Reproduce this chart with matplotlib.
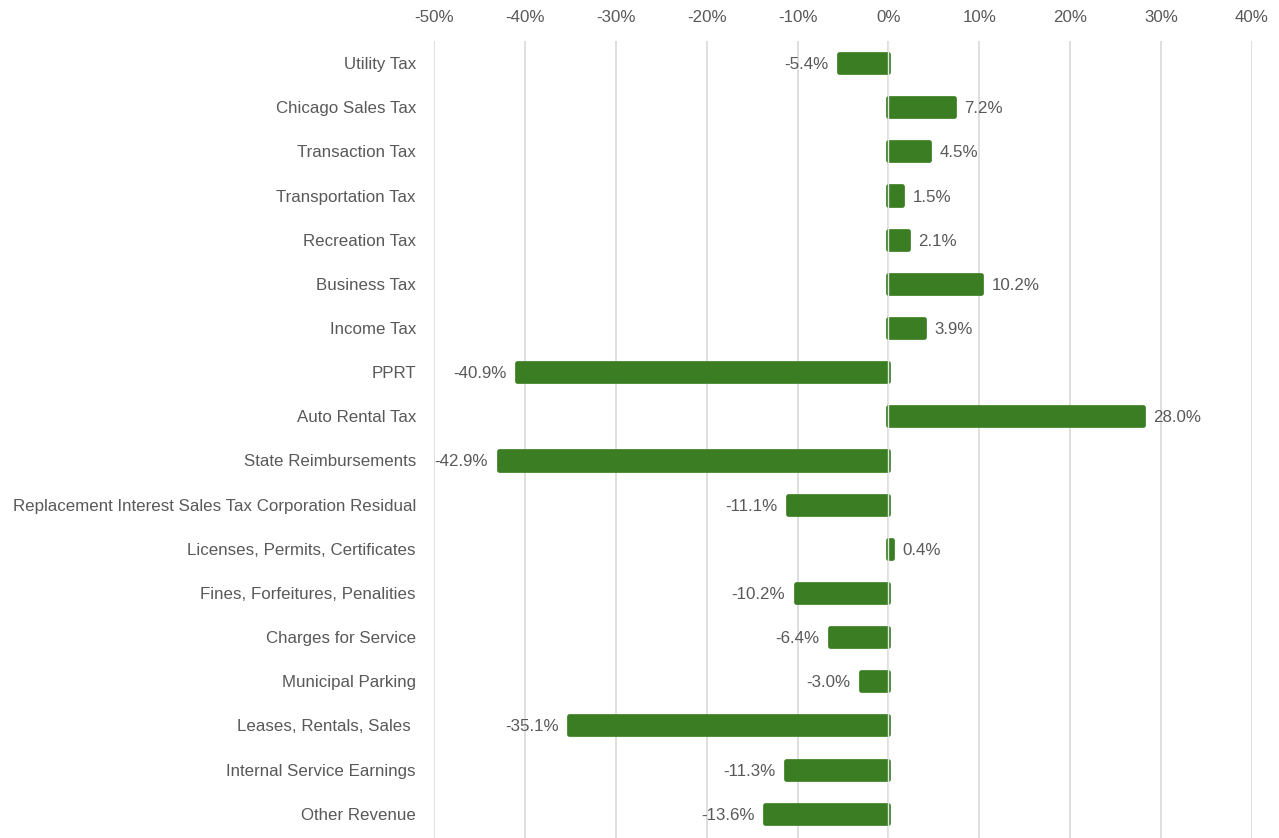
import matplotlib
matplotlib.use("Agg")
import matplotlib.pyplot as plt
from matplotlib.ticker import FuncFormatter

categories = [
    "Utility Tax", "Chicago Sales Tax", "Transaction Tax", "Transportation Tax",
    "Recreation Tax", "Business Tax", "Income Tax", "PPRT", "Auto Rental Tax",
    "State Reimbursements", "Replacement Interest Sales Tax Corporation Residual",
    "Licenses, Permits, Certificates", "Fines, Forfeitures, Penalities",
    "Charges for Service", "Municipal Parking", "Leases, Rentals, Sales ",
    "Internal Service Earnings", "Other Revenue",
]
values = [-5.4, 7.2, 4.5, 1.5, 2.1, 10.2, 3.9, -40.9, 28.0, -42.9, -11.1,
          0.4, -10.2, -6.4, -3.0, -35.1, -11.3, -13.6]
xticks = [-50, -40, -30, -20, -10, 0, 10, 20, 30, 40]

plt.rcParams['font.family'] = ['Liberation Sans', 'DejaVu Sans']
fig = plt.figure(figsize=(12.79, 8.38), dpi=100)
ax = fig.add_axes([434/1279, 0.0, (1252-434)/1279, 1-41/838])

txt = "#595959"
green = "#3A7D22"
fs = 12.2
y = list(range(len(categories)))
bars = ax.barh(y, values, height=0.41, color=green, edgecolor=green, linewidth=3.4, zorder=3)
for b in bars:
    b.set_joinstyle("round")
ax.axvline(0, color="#e6e6e6", linewidth=1.0, zorder=4)

for yi, v in zip(y, values):
    if v >= 0:
        ax.text(v + 1.15, yi, f"{v:.1f}%", va="center_baseline", ha="left", fontsize=fs, color=txt)
    else:
        ax.text(v - 1.15, yi, f"{v:.1f}%", va="center_baseline", ha="right", fontsize=fs, color=txt)

ax.set_xlim(-50, 40)
ax.set_ylim(len(categories) - 0.5 + 0.05, -0.5)
ax.set_xticks(xticks)
ax.xaxis.set_major_formatter(FuncFormatter(lambda v, p: f"{int(v)}%"))
ax.xaxis.tick_top()
ax.tick_params(axis="x", length=0, pad=11.5, labelsize=fs, labelcolor=txt)
ax.set_yticks(y)
ax.set_yticklabels(categories)
ax.tick_params(axis="y", length=0, pad=13, labelsize=fs, labelcolor=txt)
ax.grid(axis="x", color="#d9d9d9", linewidth=1.2, zorder=0)
ax.set_axisbelow(True)
for s in ax.spines.values():
    s.set_visible(False)

fig.savefig("out.png", dpi=100)
